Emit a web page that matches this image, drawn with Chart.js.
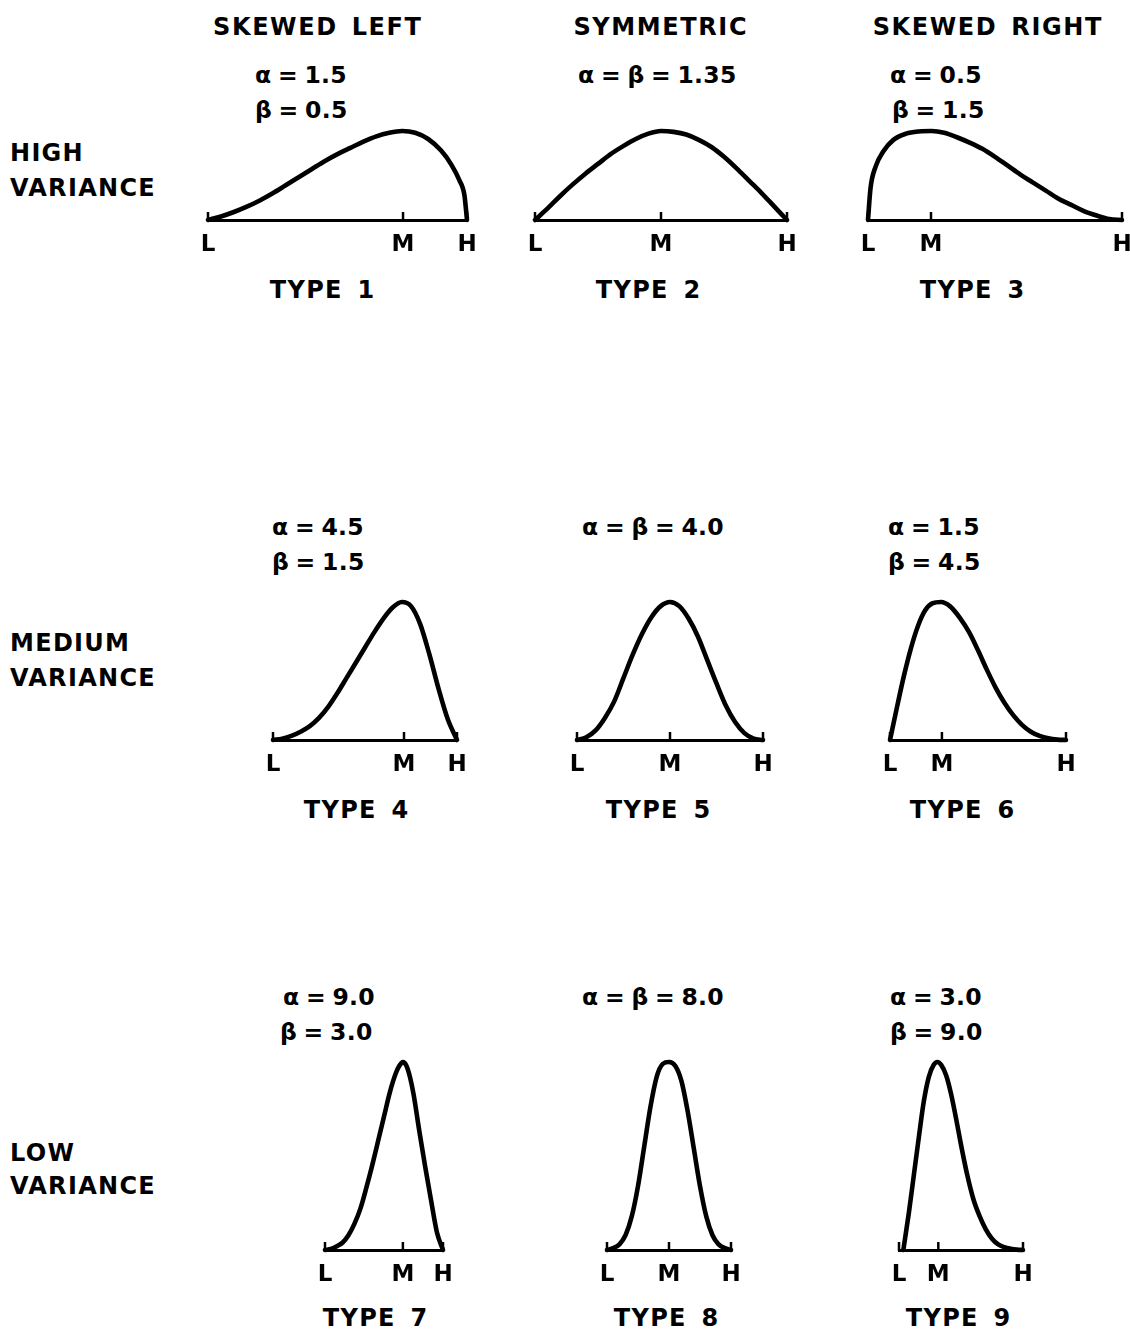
<!DOCTYPE html>
<html>
<head>
<meta charset="utf-8">
<script src="https://cdn.jsdelivr.net/npm/chart.js@4.4.1/dist/chart.umd.min.js"></script>
<style>
  html, body { margin: 0; padding: 0; background: #fff; }
  body { width: 1130px; height: 1332px; position: relative; overflow: hidden;
         font-family: "DejaVu Sans", sans-serif; font-weight: bold; color: #000; }
  .t { position: absolute; white-space: nowrap; line-height: 1; }
  .panel { position: absolute; }
  .panel canvas { display: block; }
</style>
</head>
<body>
<script>
// ---------- text content ----------
const columnHeaders = ['SKEWED LEFT', 'SYMMETRIC', 'SKEWED RIGHT'];
const rowLabels = [['HIGH', 'VARIANCE'], ['MEDIUM', 'VARIANCE'], ['LOW', 'VARIANCE']];
const tickLabels = ['L', 'M', 'H'];
const typeLabels = ['TYPE 1', 'TYPE 2', 'TYPE 3', 'TYPE 4', 'TYPE 5', 'TYPE 6', 'TYPE 7', 'TYPE 8', 'TYPE 9'];
const paramLabels = [
  ['α = 1.5', 'β = 0.5'], ['α = β = 1.35'], ['α = 0.5', 'β = 1.5'],
  ['α = 4.5', 'β = 1.5'], ['α = β = 4.0'], ['α = 1.5', 'β = 4.5'],
  ['α = 9.0', 'β = 3.0'], ['α = β = 8.0'], ['α = 3.0', 'β = 9.0']
];
// position of the mode tick "M" between L (0) and H (1)
const modePositions = [0.753, 0.5, 0.248, 0.712, 0.5, 0.295, 0.66, 0.5, 0.317];

// ---------- curve values (x: fraction from L to H, y: height in % of peak) ----------
const type1X = [0, 0.05, 0.1, 0.15, 0.2, 0.25, 0.3, 0.35, 0.4, 0.45, 0.5, 0.55, 0.6, 0.65, 0.7, 0.75, 0.8, 0.85, 0.9, 0.94, 0.97, 0.99, 1];
const type1Y = [0, 4, 9, 15, 22, 30, 39, 48, 57, 66, 74, 81, 88, 94, 98, 100, 98, 91, 78, 62, 45, 28, 0];

const type2X = [0, 0.05, 0.1, 0.15, 0.2, 0.25, 0.3, 0.35, 0.4, 0.45, 0.5, 0.55, 0.6, 0.65, 0.7, 0.75, 0.8, 0.85, 0.9, 0.95, 1];
const type2Y = [0, 13, 27, 40, 52, 63, 74, 83, 91, 97, 100, 99, 96, 90, 82, 71, 58, 44, 30, 15, 0];

const type3X = [0, 0.01, 0.03, 0.06, 0.1, 0.15, 0.2, 0.25, 0.3, 0.35, 0.4, 0.45, 0.5, 0.55, 0.6, 0.65, 0.7, 0.75, 0.8, 0.85, 0.9, 0.95, 1];
const type3Y = [0, 36, 60, 77, 90, 97, 99.5, 100, 98, 93, 87, 80, 71, 61, 51, 42, 33, 24, 17, 10, 5, 1, 0];

const type4X = [0, 0.05, 0.1, 0.15, 0.2, 0.25, 0.3, 0.35, 0.4, 0.45, 0.5, 0.55, 0.6, 0.65, 0.7, 0.75, 0.8, 0.85, 0.9, 0.95, 1];
const type4Y = [0, 1, 3, 6, 10, 16, 24, 34, 45, 56, 67, 78, 88, 96, 100, 97, 84, 62, 37, 15, 0];

const type5X = [0, 0.05, 0.1, 0.15, 0.2, 0.25, 0.3, 0.35, 0.4, 0.45, 0.5, 0.55, 0.6, 0.65, 0.7, 0.75, 0.8, 0.85, 0.9, 0.95, 1];
const type5Y = [0, 2, 7, 16, 28, 45, 62, 77, 89, 97, 100, 97, 88, 75, 58, 41, 25, 13, 5, 1, 0];

const type6X = [0, 0.04, 0.08, 0.12, 0.16, 0.2, 0.24, 0.29, 0.34, 0.4, 0.45, 0.5, 0.55, 0.6, 0.65, 0.7, 0.75, 0.8, 0.85, 0.9, 0.95, 1];
const type6Y = [0, 24, 47, 67, 83, 94, 99, 100, 97, 88, 78, 65, 51, 38, 27, 18, 11, 6, 3, 1.2, 0.3, 0];

const type7X = [0, 0.05, 0.1, 0.15, 0.2, 0.25, 0.3, 0.35, 0.4, 0.45, 0.5, 0.55, 0.6, 0.63, 0.66, 0.69, 0.72, 0.75, 0.8, 0.85, 0.9, 0.95, 1];
const type7Y = [0, 0.5, 2, 4, 8, 14, 22, 33, 45, 58, 71, 84, 94, 98, 100, 98, 92, 83, 63, 44, 26, 9, 0];

const type8X = [0, 0.05, 0.1, 0.15, 0.2, 0.25, 0.3, 0.35, 0.4, 0.45, 0.5, 0.55, 0.6, 0.65, 0.7, 0.75, 0.8, 0.85, 0.9, 0.95, 1];
const type8Y = [0, 1, 3, 8, 18, 34, 55, 76, 92, 99, 100, 98, 90, 74, 54, 34, 18, 8, 3, 1, 0];

const type9X = [0.035, 0.08, 0.12, 0.16, 0.2, 0.24, 0.28, 0.31, 0.34, 0.38, 0.42, 0.46, 0.5, 0.55, 0.6, 0.65, 0.7, 0.75, 0.8, 0.85, 0.9, 0.95, 1];
const type9Y = [0, 20, 40, 60, 79, 92, 98.5, 100, 98.5, 93, 83, 70, 56, 40, 27, 18, 11, 6, 3, 1.5, 0.7, 0.2, 0];

const curveX = [type1X, type2X, type3X, type4X, type5X, type6X, type7X, type8X, type9X];
const curveY = [type1Y, type2Y, type3Y, type4Y, type5Y, type6Y, type7Y, type8Y, type9Y];

// ---------- layout (pixel placement only) ----------
// [L pixel, H pixel, peak pixel, baseline pixel]
const panelBoxes = [
  [208, 467, 131, 220], [535, 787, 131, 220], [868, 1122, 131, 220],
  [273, 457, 602, 740], [577, 763, 602, 740], [890, 1066, 602, 740],
  [325, 443, 1062, 1250], [607, 731, 1062, 1250], [899, 1023, 1062, 1250]
];
const headerPos = [[317, 27], [660, 27], [987, 27]];
const rowLabelPos = [[153, 188], [643, 678], [1153, 1186]];
const paramPos = [
  [[255, 75], [255, 110]], [[578, 75]], [[890, 75], [892, 110]],
  [[272, 527], [272, 562]], [[582, 527]], [[888, 527], [888, 562]],
  [[283, 997], [280, 1032]], [[582, 997]], [[890, 997], [890, 1032]]
];
const typePos = [[322, 290], [648, 290], [972, 290], [356, 810], [658, 810], [962, 810], [375, 1318], [666, 1318], [958, 1318]];

const FONT = '"DejaVu Sans", sans-serif';

function addText(txt, x, cy, size, opts) {
  const d = document.createElement('div');
  d.className = 't';
  d.textContent = txt;
  d.style.fontSize = size + 'px';
  d.style.letterSpacing = (opts.ls || 0) + 'px';
  d.style.wordSpacing = (opts.ws || 0) + 'px';
  d.style.top = (cy - 0.48 * size) + 'px';
  document.body.appendChild(d);
  if (opts.center) {
    const w = d.getBoundingClientRect().width - (opts.ls || 0);
    d.style.left = (x - w / 2) + 'px';
  } else {
    d.style.left = x + 'px';
  }
}

columnHeaders.forEach((h, i) => addText(h, headerPos[i][0], headerPos[i][1], 24, {center: true, ls: 1.6, ws: 4}));
rowLabels.forEach((pair, r) => pair.forEach((txt, k) => addText(txt, 10, rowLabelPos[r][k], 24, {ls: 1.3})));
paramLabels.forEach((lines, i) => lines.forEach((txt, k) => addText(txt, paramPos[i][k][0], paramPos[i][k][1], 23.5, {ls: 0.3, ws: -2})));
typeLabels.forEach((txt, i) => addText(txt, typePos[i][0], typePos[i][1], 24, {center: true, ls: 1.3, ws: 5}));

// upward tick marks at L, M and H
const upTicks = {
  id: 'upTicks',
  afterDraw(chart) {
    const sx = chart.scales.x, ctx = chart.ctx, y0 = chart.chartArea.bottom + 1;
    ctx.save();
    ctx.strokeStyle = '#000';
    ctx.lineWidth = 2.5;
    sx.ticks.forEach(t => {
      const px = sx.getPixelForValue(t.value);
      ctx.beginPath();
      ctx.moveTo(px, y0);
      ctx.lineTo(px, y0 - 9);
      ctx.stroke();
    });
    ctx.restore();
  }
};

const P = 30, PAD_TOP = 6, AXIS_H = 44;

function makePanel(i) {
  const [Lx, Hx, peakY, baseY] = panelBoxes[i];
  const w = Hx - Lx + 2 * P;
  const h = baseY - peakY + PAD_TOP + AXIS_H;
  const div = document.createElement('div');
  div.className = 'panel';
  div.style.left = (Lx - P) + 'px';
  div.style.top = (peakY - PAD_TOP) + 'px';
  div.style.width = w + 'px';
  div.style.height = h + 'px';
  const cv = document.createElement('canvas');
  cv.width = w; cv.height = h;
  cv.style.width = w + 'px'; cv.style.height = h + 'px';
  div.appendChild(cv);
  document.body.appendChild(div);

  const points = curveX[i].map((x, k) => ({x: x, y: curveY[i][k]}));
  new Chart(cv, {
    type: 'line',
    data: {
      datasets: [{
        data: points,
        borderColor: '#000',
        borderWidth: 4.6,
        pointRadius: 0,
        fill: false,
        cubicInterpolationMode: 'monotone',
        borderCapStyle: 'round',
        borderJoinStyle: 'round',
        clip: false
      }]
    },
    options: {
      responsive: false,
      animation: false,
      events: [],
      layout: {padding: {left: P, right: P, top: PAD_TOP, bottom: 0}},
      plugins: {legend: {display: false}, tooltip: {enabled: false}, title: {display: false}},
      scales: {
        x: {
          type: 'linear', min: 0, max: 1,
          afterBuildTicks: s => { s.ticks = [0, modePositions[i], 1].map(v => ({value: v})); },
          afterFit: s => { s.height = AXIS_H; },
          grid: {display: false, drawTicks: false},
          border: {display: true, color: '#000', width: 3},
          ticks: {
            autoSkip: false, maxRotation: 0, minRotation: 0, padding: 11, color: '#000',
            font: {family: FONT, weight: 'bold', size: 23},
            callback: (v, idx) => tickLabels[idx]
          }
        },
        y: {display: false, min: 0, max: 100}
      }
    },
    plugins: [upTicks]
  });
}

for (let i = 0; i < 9; i++) makePanel(i);
</script>
</body>
</html>
